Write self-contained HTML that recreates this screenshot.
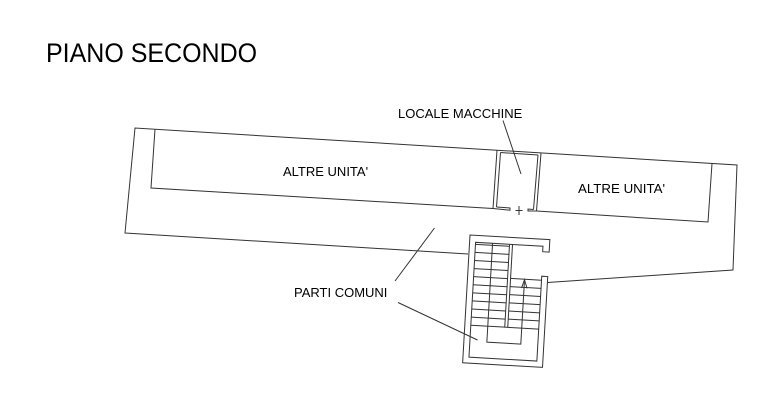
<!DOCTYPE html>
<html>
<head>
<meta charset="utf-8">
<style>
  html,body{margin:0;padding:0;background:#fff;}
  body{width:766px;height:410px;overflow:hidden;}
  svg{display:block;}
  text{font-family:"Liberation Sans",Arial,sans-serif;fill:#000;}
</style>
</head>
<body>
<svg width="766" height="410" viewBox="0 0 766 410" xmlns="http://www.w3.org/2000/svg">
  <rect width="766" height="410" fill="#fff"/>

  <!-- Title -->
  <text transform="translate(46,62) scale(1,1.06)" font-size="25">PIANO SECONDO</text>

  <g fill="none" stroke="#333" stroke-width="1">
    <!-- Outer building outline -->
    <polyline points="468,254 125,233 135,128 737,165 733,270 547.5,282.5"/>
    <!-- Left unit -->
    <polyline points="155,129.2 151,188 493,208.5"/>
    <!-- Right unit -->
    <polyline points="536.5,211 708,222 712,163.5"/>

    <!-- Machine room -->
    <line x1="497" y1="150.3" x2="493" y2="208.5"/>
    <line x1="500.5" y1="152.5" x2="496.5" y2="207"/>
    <line x1="500.5" y1="152.5" x2="538" y2="155"/>
    <line x1="541" y1="153.2" x2="536.5" y2="211"/>
    <line x1="538" y1="155" x2="533.5" y2="209.5"/>
    <!-- door stubs -->
    <polyline points="496.5,207 510,208 510,210.2 493,208.5"/>
    <polyline points="533.5,209.5 528,209 528,211 536.5,211"/>
    <!-- tick -->
    <line x1="519" y1="206" x2="519" y2="215"/>
    <line x1="515.5" y1="210.5" x2="522.5" y2="210.5"/>

    <!-- Leaders -->
    <line x1="503" y1="120.5" x2="521" y2="174"/>
    <line x1="395" y1="281" x2="434.5" y2="228"/>
    <line x1="398" y1="302.5" x2="477.5" y2="340"/>

    <!-- Stair -->
    <g transform="translate(470,235) rotate(3.3)">
      <path d="M73.5,7 L73.5,12.5 L80,12.5 L80,0 L0,0 L0,128 L80,128 L80,37 L74,37 L74,122 L6,122 L6,7 Z"/>
      <!-- left flight treads -->
      <line x1="6" y1="9" x2="40" y2="9"/>
      <line x1="6" y1="17.1" x2="40" y2="17.1"/>
      <line x1="6" y1="25.2" x2="40" y2="25.2"/>
      <line x1="6" y1="33.3" x2="40" y2="33.3"/>
      <line x1="6" y1="41.4" x2="40" y2="41.4"/>
      <line x1="6" y1="49.5" x2="40" y2="49.5"/>
      <line x1="6" y1="57.6" x2="40" y2="57.6"/>
      <line x1="6" y1="65.7" x2="40" y2="65.7"/>
      <line x1="6" y1="73.8" x2="40" y2="73.8"/>
      <line x1="6" y1="81.9" x2="40" y2="81.9"/>
      <line x1="6" y1="90" x2="40" y2="90"/>
      <!-- divider -->
      <polyline points="40,7 40,90 43,90 43,7"/>
      <!-- right flight treads -->
      <line x1="43" y1="41" x2="74" y2="41"/>
      <line x1="43" y1="49.2" x2="74" y2="49.2"/>
      <line x1="43" y1="57.3" x2="74" y2="57.3"/>
      <line x1="43" y1="65.5" x2="74" y2="65.5"/>
      <line x1="43" y1="73.7" x2="74" y2="73.7"/>
      <line x1="43" y1="81.8" x2="74" y2="81.8"/>
      <line x1="43" y1="90" x2="74" y2="90"/>
      <!-- walking line -->
      <polyline points="23,7 23,106 57,106 57,41.5"/>
      <polyline points="54.5,50 57,41.5 60,50"/>
    </g>
  </g>

  <!-- Labels -->
  <text x="398" y="118" font-size="13">LOCALE MACCHINE</text>
  <text x="283" y="176" font-size="13">ALTRE UNITA'</text>
  <text x="578" y="193" font-size="13.3">ALTRE UNITA'</text>
  <text x="294" y="297" font-size="13">PARTI COMUNI</text>
</svg>
</body>
</html>
